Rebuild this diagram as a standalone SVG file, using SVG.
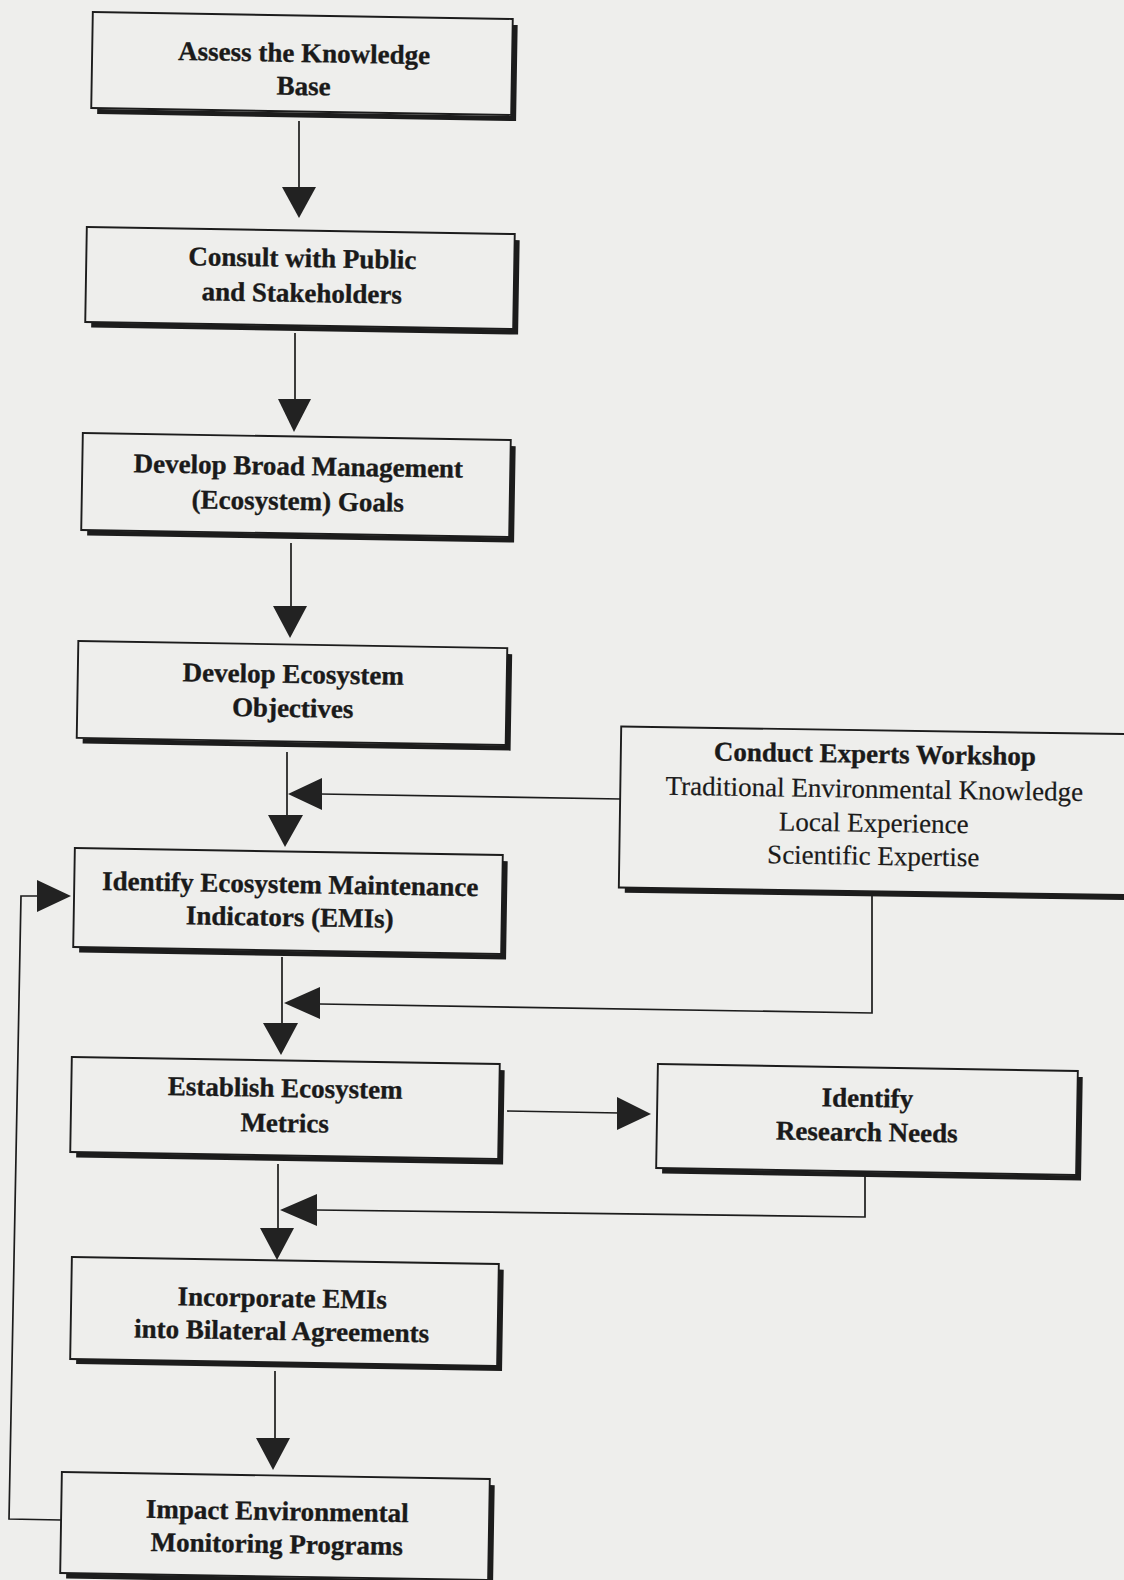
<svg xmlns="http://www.w3.org/2000/svg" width="1124" height="1580" viewBox="0 0 1124 1580">
<style>
.bx{fill:none;stroke:#1c1c1c;stroke-width:1.9}
.sh{fill:#1c1c1c}
.ln{fill:none;stroke:#1c1c1c;stroke-width:1.7}
.ah{fill:#222}
.lb{font-family:"Liberation Serif","Times New Roman",serif;font-weight:bold;font-size:27px;fill:#1a1a1a;stroke:#1a1a1a;stroke-width:0.35;text-anchor:middle}
.lr{font-family:"Liberation Serif","Times New Roman",serif;font-size:27px;fill:#1a1a1a;stroke:#1a1a1a;stroke-width:0.2;text-anchor:middle}
</style>
<rect x="0" y="0" width="1124" height="1580" fill="#eeeeec"/>

<g id="connectors">
<line class="ln" x1="299" y1="121" x2="299" y2="189"/>
<polygon class="ah" points="282,187 316,187 299,218"/>
<line class="ln" x1="295" y1="333" x2="295" y2="401"/>
<polygon class="ah" points="278,399 311,399 294,432"/>
<line class="ln" x1="291" y1="543" x2="291" y2="608"/>
<polygon class="ah" points="273,606 307,606 290,638"/>
<line class="ln" x1="287" y1="752" x2="287" y2="817"/>
<polygon class="ah" points="268,815 303,815 285,847"/>
<polyline class="ln" points="621,799 320,794"/>
<polygon class="ah" points="288,794 322,778 322,810"/>
<line class="ln" x1="282" y1="957" x2="282" y2="1025"/>
<polygon class="ah" points="263,1023 298,1023 281,1055"/>
<polyline class="ln" points="872,893 872,1013 320,1004"/>
<polygon class="ah" points="284,1003 320,987 320,1019"/>
<line class="ln" x1="507" y1="1111" x2="620" y2="1113"/>
<polygon class="ah" points="617,1097 617,1130 651,1114"/>
<polyline class="ln" points="865,1176 865,1217 316,1210"/>
<polygon class="ah" points="280,1210 317,1194 317,1226"/>
<line class="ln" x1="278" y1="1164" x2="278" y2="1230"/>
<polygon class="ah" points="260,1228 294,1228 277,1260"/>
<line class="ln" x1="275" y1="1371" x2="275" y2="1440"/>
<polygon class="ah" points="256,1438 290,1438 273,1470"/>
<polyline class="ln" points="61,1520 9,1519 21,896 40,896"/>
<polygon class="ah" points="37,880 37,912 71,896"/>
</g>

<g id="n1" transform="rotate(0.95 302 63.5)">
<path class="sh" d="M512,21.5 h5 v96 h-419 v-5 h414 z"/>
<rect class="bx" x="92" y="15.5" width="420" height="96"/>
<text class="lb" x="304" y="62">Assess the Knowledge</text>
<text class="lb" x="304" y="95">Base</text>
</g>

<g id="n2" transform="rotate(0.95 300 278)">
<path class="sh" d="M514,236.5 h5 v94.5 h-427 v-5 h422 z"/>
<rect class="bx" x="86" y="230.5" width="428" height="95"/>
<text class="lb" x="302" y="267">Consult with Public</text>
<text class="lb" x="302" y="302">and Stakeholders</text>
</g>

<g id="n3" transform="rotate(0.95 296 485)">
<path class="sh" d="M510,442.5 h5 v96.5 h-427 v-5 h422 z"/>
<rect class="bx" x="82" y="436.5" width="428" height="97"/>
<text class="lb" x="298" y="475">Develop Broad Management</text>
<text class="lb" x="298" y="510">(Ecosystem) Goals</text>
</g>

<g id="n4" transform="rotate(0.95 292 693)">
<path class="sh" d="M506.5,650.5 h5 v96.5 h-428 v-5 h423 z"/>
<rect class="bx" x="77.5" y="644.5" width="429" height="97"/>
<text class="lb" x="293" y="683">Develop Ecosystem</text>
<text class="lb" x="293" y="717">Objectives</text>
</g>

<g id="n5" transform="rotate(0.95 288 901)">
<path class="sh" d="M502,857.5 h5 v98.5 h-427 v-5 h422 z"/>
<rect class="bx" x="74" y="851.5" width="428" height="99"/>
<text class="lb" x="290" y="893">Identify Ecosystem Maintenance</text>
<text class="lb" x="290" y="926">Indicators (EMIs)</text>
</g>

<g id="n6" transform="rotate(0.95 285 1108)">
<path class="sh" d="M499,1066.5 h5 v94.5 h-427 v-5 h422 z"/>
<rect class="bx" x="71" y="1060.5" width="428" height="95"/>
<text class="lb" x="285" y="1097">Establish Ecosystem</text>
<text class="lb" x="285" y="1132">Metrics</text>
</g>

<g id="n7" transform="rotate(0.95 284.5 1311.5)">
<path class="sh" d="M498,1266 h5 v101.5 h-426 v-5 h421 z"/>
<rect class="bx" x="71" y="1260.5" width="427" height="102"/>
<text class="lb" x="282" y="1307">Incorporate EMIs</text>
<text class="lb" x="282" y="1340">into Bilateral Agreements</text>
</g>

<g id="n8" transform="rotate(0.95 275 1526)">
<path class="sh" d="M489,1481.5 h5 v100.5 h-427 v-5 h422 z"/>
<rect class="bx" x="61" y="1475.5" width="428" height="101"/>
<text class="lb" x="277" y="1520">Impact Environmental</text>
<text class="lb" x="277" y="1553">Monitoring Programs</text>
</g>

<g id="n9" transform="rotate(0.95 867 1119.5)">
<path class="sh" d="M1077,1073.5 h5 v103.5 h-419 v-5 h414 z"/>
<rect class="bx" x="657" y="1067.5" width="420" height="104"/>
<text class="lb" x="867" y="1107">Identify</text>
<text class="lb" x="867" y="1141">Research Needs</text>
</g>

<g id="n10" transform="rotate(0.85 885 811)">
<path class="sh" d="M1150,736.5 h5 v160 h-529 v-5 h524 z"/>
<rect class="bx" x="620" y="730.5" width="530" height="161"/>
<text class="lb" x="874" y="763">Conduct Experts Workshop</text>
<text class="lr" x="874" y="798">Traditional Environmental Knowledge</text>
<text class="lr" x="874" y="832">Local Experience</text>
<text class="lr" x="874" y="865">Scientific Expertise</text>
</g>
</svg>
